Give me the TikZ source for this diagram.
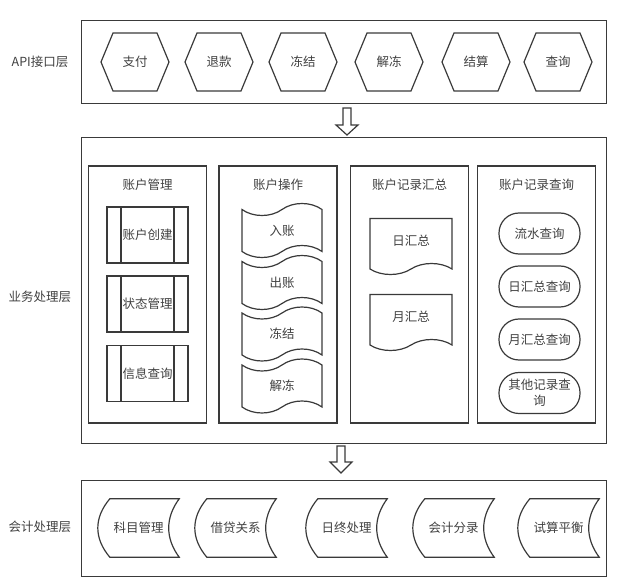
\documentclass[tikz,border=0pt]{standalone}
\usepackage{fontspec}
\setmainfont{Noto Sans CJK SC}
\usetikzlibrary{shapes.symbols}
\definecolor{linegray}{HTML}{3A3A3A}
\definecolor{textgray}{HTML}{404040}

\begin{document}
\begin{tikzpicture}[x=1pt,y=-1pt,
		every node/.style={text=textgray,font=\fontsize{12.5}{16}\selectfont,inner sep=0pt,align=center},
		shapeline/.style={draw=linegray,line width=1.2pt},
		layerbox/.style={shapeline,minimum width=525,anchor=north west},
		colbox/.style={shapeline,minimum width=118,minimum height=257},
		hexbox/.style={shapeline,signal,signal to=west and east,signal pointer angle=135,minimum width=68,minimum height=58},
		procbox/.style={shapeline,minimum width=81,minimum height=56,
			path picture={\draw[shapeline] ([xshift=14]path picture bounding box.north west) -- ([xshift=14]path picture bounding box.south west)
				([xshift=-14]path picture bounding box.north east) -- ([xshift=-14]path picture bounding box.south east);}},
		tapebox/.style={shapeline,tape,tape bend height=12,minimum width=80,minimum height=54},
		docbox/.style={shapeline,tape,tape bend top=none,tape bend height=11,minimum width=82,minimum height=56},
		qrybox/.style={shapeline,rounded corners=20,minimum width=81,minimum height=41},
		storebox/.style={minimum width=81,minimum height=58},
		blockarrow/.style={shapeline,fill=white,line join=miter}]
		\useasboundingbox (0,0) rectangle (627,585);
		%layers
			\node[layerbox,minimum height=83] (api) at (81,20) {};
			\node[layerbox,minimum height=306] (biz) at (81,137) {};
			\node[layerbox,minimum height=96] (acc) at (81,480) {};
			\node (apilabel) at (40,62) {API接口层};
			\node (bizlabel) at (40,297) {业务处理层};
			\node (acclabel) at (40,527) {会计处理层};
		%api
			\node[hexbox] (zhifu) at (135,62) {支付};
			\node[hexbox] (tuikuan) at (219,62) {退款};
			\node[hexbox] (dongjie) at (303,62) {冻结};
			\node[hexbox] (jiedong) at (389,62) {解冻};
			\node[hexbox] (jiesuan) at (476,62) {结算};
			\node[hexbox] (chaxun) at (558,62) {查询};
		%arrows between layers
			\coordinate (arrowa) at (347,108);
			\coordinate (arrowb) at (341,446);
			\draw[blockarrow] (arrowa) ++(-4,0) -- ++(8,0) -- ++(0,17) -- ++(7,0) -- ++(-11,10) -- ++(-11,-10) -- ++(7,0) -- cycle;
			\draw[blockarrow] (arrowb) ++(-4,0) -- ++(8,0) -- ++(0,16) -- ++(7,0) -- ++(-11,11) -- ++(-11,-11) -- ++(7,0) -- cycle;
		%columns
			\node[colbox] (guanli) at (147.5,294.5) {};
			\node[colbox] (caozuo) at (278,294.5) {};
			\node[colbox] (huizong) at (409.5,294.5) {};
			\node[colbox] (jilu) at (536.5,294.5) {};
			\node (guanlititle) at (147.5,185) {账户管理};
			\node (caozuotitle) at (278,185) {账户操作};
			\node (huizongtitle) at (409.5,185) {账户记录汇总};
			\node (jilutitle) at (536.5,185) {账户记录查询};
		%account management
			\node[procbox] (chuangjian) at (147.5,235) {账户创建};
			\node[procbox] (zhuangtai) at (147.5,304) {状态管理};
			\node[procbox] (xinxi) at (147.5,373.5) {信息查询};
		%account operations
			\node[tapebox] (ruzhang) at (282,230.5) {入账};
			\node[tapebox] (chuzhang) at (282,282.5) {出账};
			\node[tapebox] (opdongjie) at (282,334) {冻结};
			\node[tapebox] (opjiedong) at (282,386) {解冻};
		%summaries
			\node[docbox] (rihuizong) at (411,241) {日汇总};
			\node[docbox] (yuehuizong) at (411,317) {月汇总};
		%queries
			\node[qrybox] (liushui) at (539.5,233.5) {流水查询};
			\node[qrybox] (richaxun) at (539.5,286.5) {日汇总查询};
			\node[qrybox] (yuechaxun) at (539.5,339.5) {月汇总查询};
			\node[qrybox] (qita) at (539.5,393) {其他记录查\\询};
		%accounting
			\node[storebox] (kemu) at (138.5,528) {科目管理};
			\node[storebox] (jiedai) at (235.5,528) {借贷关系};
			\node[storebox] (rizhong) at (346.5,528) {日终处理};
			\node[storebox] (fenlu) at (453.5,528) {会计分录};
			\node[storebox] (shisuan) at (558.5,528) {试算平衡};
			\foreach \n in {kemu,jiedai,rizhong,fenlu,shisuan}
				\draw[shapeline] ([xshift=12]\n.north west) -- (\n.north east)
					.. controls ([xshift=-14,yshift=-19]\n.north east) and ([xshift=-14,yshift=19]\n.south east) .. (\n.south east)
					-- ([xshift=12]\n.south west)
					.. controls ([xshift=-4,yshift=19]\n.south west) and ([xshift=-4,yshift=-19]\n.north west) .. ([xshift=12]\n.north west) -- cycle;
	\end{tikzpicture}
\end{document}
